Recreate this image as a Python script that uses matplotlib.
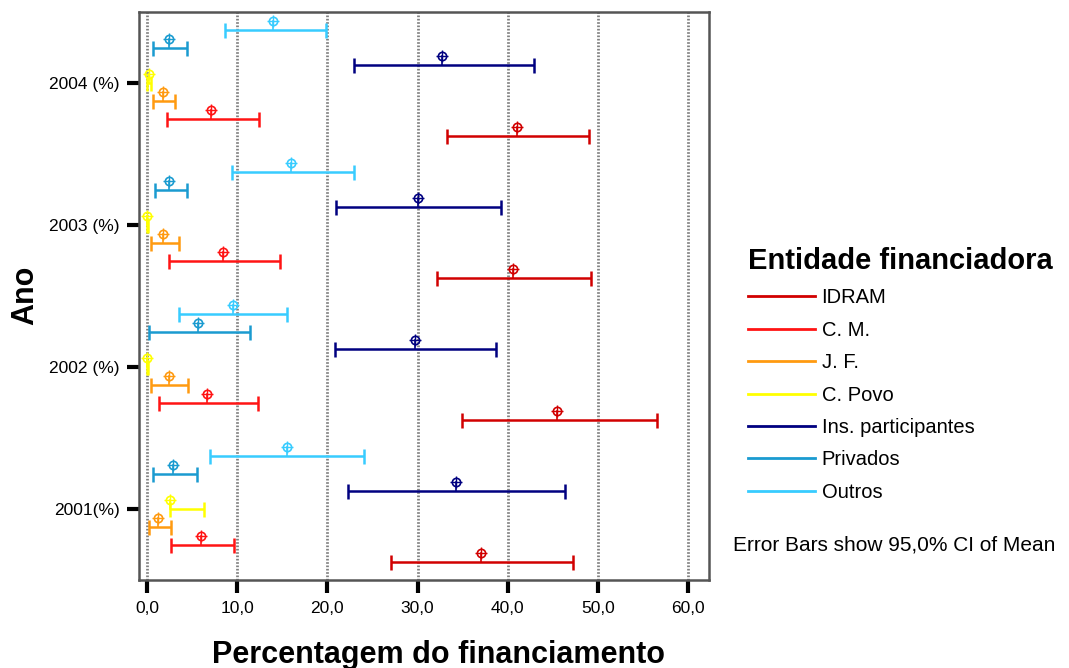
import matplotlib
matplotlib.use("Agg")
import matplotlib.pyplot as plt
from matplotlib.lines import Line2D
import numpy as np

plt.rcParams["font.family"] = ["Liberation Sans", "DejaVu Sans"]

# years, bottom to top
years = ["2001(%)", "2002 (%)", "2003 (%)", "2004 (%)"]

# legend order
series = ["IDRAM", "C. M.", "J. F.", "C. Povo", "Ins. participantes", "Privados", "Outros"]
colors = ["#d10000", "#ff1414", "#ff9a10", "#ffff00", "#000080", "#1a9bd0", "#38ccff"]

# values per year: 2001, 2002, 2003, 2004
idram_mean = [37.0, 45.5, 40.6, 41.0]
idram_low = [27.1, 34.9, 32.2, 33.3]
idram_high = [47.3, 56.6, 49.2, 49.0]

cm_mean = [6.0, 6.6, 8.4, 7.1]
cm_low = [2.7, 1.3, 2.4, 2.2]
cm_high = [9.6, 12.3, 14.7, 12.4]

jf_mean = [1.2, 2.4, 1.8, 1.8]
jf_low = [0.2, 0.4, 0.4, 0.7]
jf_high = [2.7, 4.6, 3.5, 3.1]

povo_mean = [2.5, 0.0, 0.0, 0.2]
povo_low = [2.5, 0.0, 0.0, 0.0]
povo_high = [6.3, 0.1, 0.1, 0.4]

ins_mean = [34.3, 29.7, 30.1, 32.7]
ins_low = [22.3, 20.8, 21.0, 23.0]
ins_high = [46.4, 38.7, 39.3, 42.9]

priv_mean = [2.9, 5.7, 2.4, 2.4]
priv_low = [0.7, 0.2, 0.9, 0.7]
priv_high = [5.5, 11.4, 4.4, 4.4]

outros_mean = [15.5, 9.5, 16.0, 14.0]
outros_low = [7.0, 3.5, 9.4, 8.7]
outros_high = [24.1, 15.5, 23.0, 19.9]

means = [idram_mean, cm_mean, jf_mean, povo_mean, ins_mean, priv_mean, outros_mean]
lows = [idram_low, cm_low, jf_low, povo_low, ins_low, priv_low, outros_low]
highs = [idram_high, cm_high, jf_high, povo_high, ins_high, priv_high, outros_high]

xticks = [0, 10, 20, 30, 40, 50, 60]
xtick_labels = ["0,0", "10,0", "20,0", "30,0", "40,0", "50,0", "60,0"]

fig = plt.figure(figsize=(10.69, 6.68), dpi=100)
ax = fig.add_axes([139 / 1069, 1 - 580 / 668, 570 / 1069, 568 / 668])

ypos = np.arange(len(years))
step = 0.125
lift = 0.063

for k, name in enumerate(series):
    y = ypos + (k - 3) * step
    m = np.array(means[k])
    lo = np.array(lows[k])
    hi = np.array(highs[k])
    c = colors[k]
    ax.errorbar(m, y, xerr=[m - lo, hi - m], fmt="none", ecolor=c,
                elinewidth=1.8, capsize=5.4, capthick=1.8, zorder=3)
    for xi, yi in zip(m, y):
        ax.plot([xi, xi], [yi, yi + lift], color=c, lw=1.2, zorder=3)
    ax.plot(m, y + lift, "o", ms=6, mfc="none", mec=c, mew=1.2, zorder=4)
    ax.plot(m, y + lift, "+", ms=9, mec=c, mew=1.0, zorder=4)

for xt in xticks:
    ax.axvline(xt, color="#808080", lw=2, linestyle=(0, (0.6, 0.6)), zorder=1)

ax.set_xlim(-0.89, 62.33)
ax.set_ylim(-0.5, 3.5)
ax.set_xticks(xticks)
ax.set_xticklabels(xtick_labels, fontsize=12.5)
ax.set_yticks(ypos)
ax.set_yticklabels(years, fontsize=12.5)
ax.tick_params(axis="x", length=9, width=3, pad=6, color="black")
ax.tick_params(axis="y", length=9, width=3, pad=5, color="black")

for s in ax.spines.values():
    s.set_color("#555555")
    s.set_linewidth(1.8)

fig.text(25 / 1069, 1 - 295 / 668, "Ano", fontsize=22, fontweight="bold",
         rotation=90, ha="center", va="center")
fig.text(438 / 1069, 1 - 655 / 668, "Percentagem do financiamento",
         fontsize=22, fontweight="bold", ha="center", va="center")

handles = [Line2D([0], [0], color=c, lw=2) for c in colors]
leg = fig.legend(handles, series, loc="upper left",
                 bbox_to_anchor=(738 / 1069, 1 - 237 / 668),
                 frameon=False, fontsize=14.5, handlelength=3.3,
                 handletextpad=0.35, labelspacing=0.665, borderpad=0,
                 title="Entidade financiadora",
                 title_fontproperties={"size": 21, "weight": "bold"},
                 alignment="left")

fig.text(733 / 1069, 1 - 545 / 668, "Error Bars show 95,0% CI of Mean",
         fontsize=15, ha="left", va="center")

fig.savefig("out.png", dpi=100)
